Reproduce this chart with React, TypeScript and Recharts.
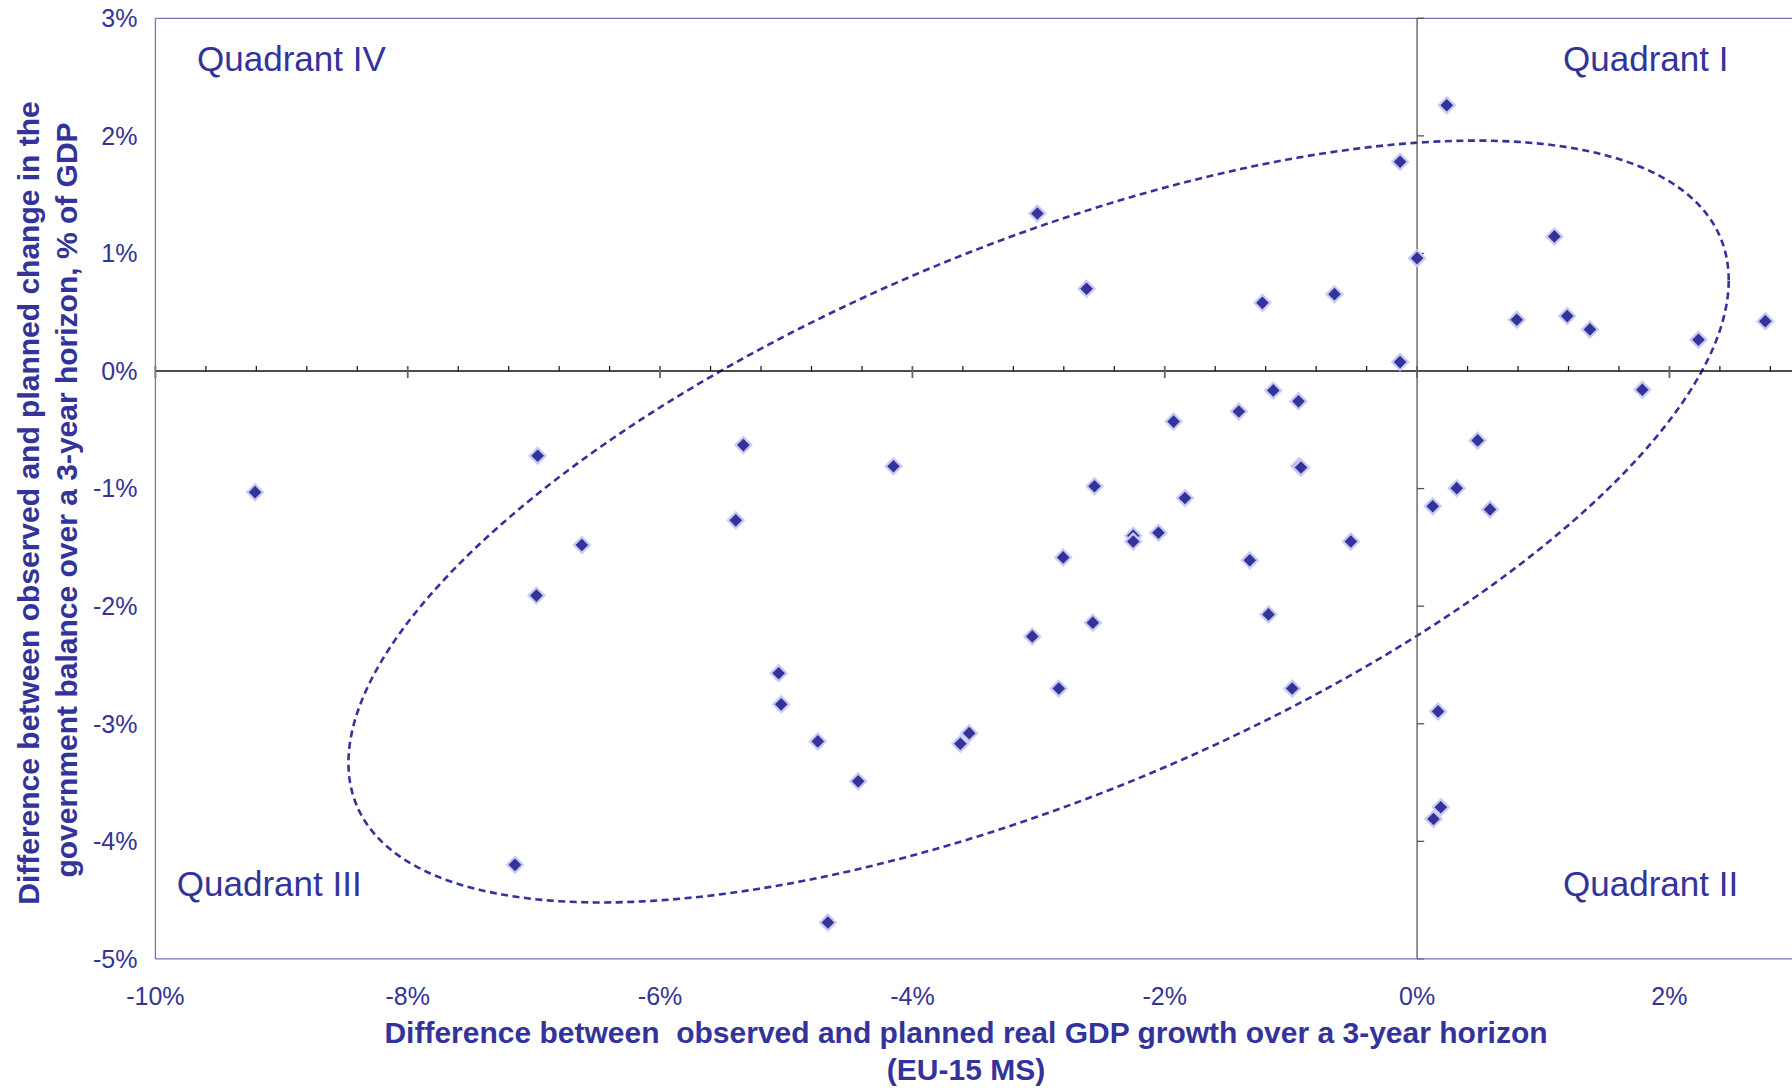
import React from "react";
import {
  ScatterChart,
  Scatter,
  XAxis,
  YAxis,
  ReferenceLine,
  ReferenceArea,
  ReferenceDot,
} from "recharts";

// Axis ticks (% points)
const X_TICKS = [-10, -8, -6, -4, -2, 0, 2];
const Y_TICKS = [-5, -4, -3, -2, -1, 0, 1, 2, 3];

// Observed minus planned real GDP growth over 3 years (EU-15 MS), %
const GDP_GAP = [
  0.235, -0.135, -3.01, 1.088, 0.0, -2.62, -0.655, -1.226, 1.19, 0.79,
  2.76, 1.37, 2.23, -0.135, -1.14, 1.785, -0.94, -1.413, 0.48, -5.34,
  -1.93, -6.97, -0.935, -0.92, -4.15, -2.557, 0.314, -9.21, -1.84, 0.124,
  0.578, -5.4, -2.05, -2.25, -2.25, -0.525, -6.62, -2.805, -1.326, -6.98,
  -1.178, -2.57, -3.05, -5.06, -2.84, -0.99, -5.04, 0.166, -3.55, -3.62,
  -4.75, -4.43, 0.188, 0.13, -7.15, -4.67,
];

// Observed minus planned change in government balance, % of GDP
const BALANCE_GAP = [
  2.26, 1.78, 1.34, 1.145, 0.96, 0.7, 0.654, 0.58, 0.467, 0.436,
  0.424, 0.354, 0.266, 0.076, -0.165, -0.159, -0.258, -0.344, -0.59, -0.63,
  -0.43, -0.72, -0.81, -0.82, -0.81, -0.98, -0.996, -1.03, -1.08, -1.15,
  -1.177, -1.27, -1.375, -1.4, -1.45, -1.45, -1.48, -1.585, -1.61, -1.91,
  -2.07, -2.14, -2.257, -2.57, -2.7, -2.7, -2.835, -2.895, -3.08, -3.17,
  -3.15, -3.49, -3.71, -3.81, -4.2, -4.69,
];

const points = GDP_GAP.map((x, i) => ({ x, y: BALANCE_GAP[i] }));

// dashed ellipse: centre, half extents and phase (deg) in data units
const ELLIPSE = { cx: -3.0, cy: -1.28, rx: 5.47, ry: 3.24, phase: 50.7 };

const QUADRANTS = [
  { name: "Quadrant IV", x: -9.67, y: 2.66 },
  { name: "Quadrant I", x: 1.157, y: 2.66 },
  { name: "Quadrant III", x: -9.83, y: -4.36 },
  { name: "Quadrant II", x: 1.157, y: -4.36 },
];

// minor ticks along the zero line every 0.4, major every 2
const ZERO_TICKS = Array.from({ length: 33 }, (_, i) => ({
  v: Math.round((-10 + 0.4 * i) * 10) / 10,
  major: i % 5 === 0,
}));

const FONT = "'Liberation Sans', Arial, sans-serif";
const INK = "#333399";
const FRAME = "#7474ba";

const pct = (v: number) => `${v}%`;

const Diamond = (props: any) => {
  const { cx, cy } = props;
  if (cx == null || cy == null) return null;
  const o = 9.5;
  const r = 6.3;
  return (
    <g>
      <polygon
        points={`${cx},${cy - o} ${cx + o},${cy} ${cx},${cy + o} ${cx - o},${cy}`}
        fill="#cacaf6"
      />
      <polygon
        points={`${cx},${cy - r} ${cx + r},${cy} ${cx},${cy + r} ${cx - r},${cy}`}
        fill={INK}
      />
    </g>
  );
};

const EllipseShape = (props: any) => {
  const { x, y, width, height } = props;
  const cx = x + width / 2;
  const cy = y + height / 2;
  const ph = (ELLIPSE.phase * Math.PI) / 180;
  let d = "";
  for (let i = 0; i <= 360; i++) {
    const t = (i * Math.PI) / 180;
    const px = cx + (width / 2) * Math.cos(t);
    const py = cy - (height / 2) * Math.cos(t - ph);
    d += (i ? "L" : "M") + px.toFixed(2) + "," + py.toFixed(2);
  }
  return (
    <path d={d} fill="none" stroke={INK} strokeWidth={2.6} strokeDasharray="7 4.5" />
  );
};

const quadrantLabel = (text: string) => (props: any) => (
  <text
    x={props.cx}
    y={props.cy}
    dominantBaseline="central"
    fontSize={35}
    fontFamily={FONT}
    fill={INK}
  >
    {text}
  </text>
);

const XTitle = () => (
  <g fontFamily={FONT} fontSize={30} fontWeight="bold" fill={INK} textAnchor="middle">
    <text x={966} y={1043} style={{ whiteSpace: "pre" }}>
      Difference between  observed and planned real GDP growth over a 3-year horizon
    </text>
    <text x={966} y={1080}>(EU-15 MS)</text>
  </g>
);

const YTitle = () => (
  <g fontFamily={FONT} fontSize={30} fontWeight="bold" fill={INK} textAnchor="middle">
    <text x={39} y={503} transform="rotate(-90 39 503)">
      Difference between observed and planned change in the
    </text>
    <text x={77} y={500} transform="rotate(-90 77 500)">
      government balance over a 3-year horizon, % of GDP
    </text>
  </g>
);

export default function App() {
  return (
    <div
      style={{
        position: "fixed",
        left: 0,
        top: 0,
        width: 1792,
        height: 1088,
        overflow: "hidden",
        background: "#fff",
      }}
    >
      <ScatterChart
        width={1800}
        height={1088}
        margin={{ top: 18.3, right: 4.4, bottom: 89.1, left: 95.4 }}
      >
        <XAxis
          type="number"
          dataKey="x"
          domain={[-10, 3]}
          ticks={X_TICKS}
          interval={0}
          tickFormatter={pct}
          tick={{ fill: INK, fontSize: 25, fontFamily: FONT }}
          tickLine={false}
          tickSize={0}
          tickMargin={28}
          axisLine={{ stroke: FRAME, strokeWidth: 1.3 }}
          height={40}
          label={{ content: XTitle }}
        />
        <YAxis
          type="number"
          dataKey="y"
          domain={[-5, 3]}
          ticks={Y_TICKS}
          interval={0}
          tickFormatter={pct}
          tick={{ fill: INK, fontSize: 25, fontFamily: FONT }}
          tickLine={false}
          tickSize={0}
          tickMargin={18}
          axisLine={{ stroke: FRAME, strokeWidth: 1.3 }}
          width={60}
          label={{ content: YTitle }}
        />
        <ReferenceLine y={3} stroke={FRAME} strokeWidth={1.3} />
        <ReferenceLine y={0} stroke="#111" strokeWidth={1.5} />
        <ReferenceLine x={0} stroke="#555" strokeWidth={1.3} />
        {ZERO_TICKS.map((t) => (
          <ReferenceLine
            key={`xt-${t.v}`}
            segment={[
              { x: t.v, y: t.major ? -0.06 : 0 },
              { x: t.v, y: 0.043 },
            ]}
            stroke={t.major ? "#666" : "#111"}
            strokeWidth={t.major ? 1.8 : 1.2}
          />
        ))}
        {Y_TICKS.map((v) => (
          <ReferenceLine
            key={`yt-${v}`}
            segment={[
              { x: 0, y: v },
              { x: 0.056, y: v },
            ]}
            stroke="#555"
            strokeWidth={1.3}
          />
        ))}
        <ReferenceArea
          x1={ELLIPSE.cx - ELLIPSE.rx}
          x2={ELLIPSE.cx + ELLIPSE.rx}
          y1={ELLIPSE.cy - ELLIPSE.ry}
          y2={ELLIPSE.cy + ELLIPSE.ry}
          shape={EllipseShape}
        />
        {QUADRANTS.map((q) => (
          <ReferenceDot key={q.name} x={q.x} y={q.y} r={0} shape={quadrantLabel(q.name)} />
        ))}
        <Scatter data={points} shape={Diamond} isAnimationActive={false} />
      </ScatterChart>
    </div>
  );
}
